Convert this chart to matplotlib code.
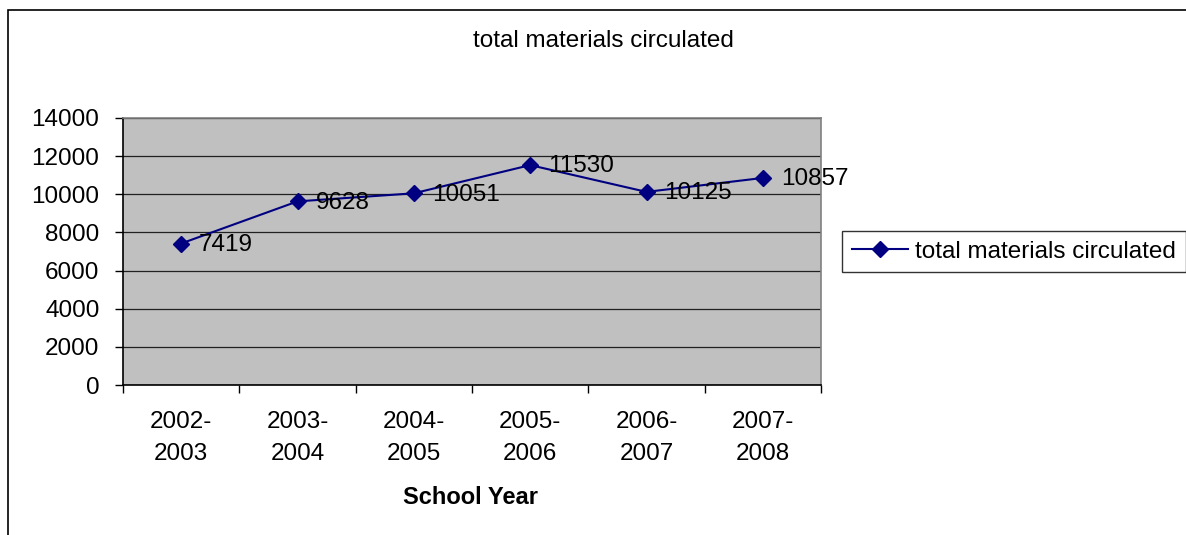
import matplotlib
matplotlib.use("Agg")
import matplotlib.pyplot as plt
from matplotlib import ticker
from matplotlib.patches import Rectangle

school_years = ["2002-\n2003", "2003-\n2004", "2004-\n2005", "2005-\n2006", "2006-\n2007", "2007-\n2008"]
circulated = [7419, 9628, 10051, 11530, 10125, 10857]
series_name = "total materials circulated"
y_ticks = [0, 2000, 4000, 6000, 8000, 10000, 12000, 14000]

plt.rcParams['font.family'] = ['Liberation Sans', 'DejaVu Sans']
FS = 17.5
W, H = 1186, 535

fig = plt.figure(figsize=(W / 100, H / 100), dpi=100)
ax = fig.add_axes([123 / W, 1 - 385 / H, (821 - 123) / W, (385 - 118) / H])
ax.set_facecolor("#c0c0c0")

x = list(range(len(school_years)))
ax.plot(x, circulated, color="#000080", lw=1.5, marker="D", markersize=8,
        label=series_name, zorder=3)
for xi, v in zip(x, circulated):
    ax.annotate(str(v), (xi, v), xytext=(13, -1), textcoords="offset points",
                ha="left", va="center", fontsize=FS, zorder=4)

ax.set_xlim(-0.5, len(school_years) - 0.5)
ax.set_ylim(0, 14000)
ax.set_yticks(y_ticks)
ax.yaxis.grid(True, color="#202020", lw=0.9)
ax.set_axisbelow(True)

ax.set_xticks(x)
ax.set_xticklabels(school_years, fontsize=FS, linespacing=1.55)
ax.xaxis.set_minor_locator(ticker.FixedLocator([i - 0.5 for i in range(len(school_years) + 1)]))
ax.tick_params(axis="x", which="major", length=0, pad=19)
ax.tick_params(axis="x", which="minor", length=6, width=1, direction="out")
ax.tick_params(axis="y", length=6, width=1, direction="out", pad=11, labelsize=FS)

for side in ("left", "bottom"):
    ax.spines[side].set_color("black")
    ax.spines[side].set_linewidth(1.2)
for side in ("top", "right"):
    ax.spines[side].set_color("#808080")
    ax.spines[side].set_linewidth(1.2)

fig.text(603 / W, 1 - 41 / H, series_name, ha="center", va="center", fontsize=FS)
fig.text(471 / W, 1 - 497 / H, "School Year", ha="center", va="center",
         fontsize=FS - 0.5, fontweight="bold")

leg = fig.legend(loc="upper left", bbox_to_anchor=(842 / W, 1 - 231 / H),
                 fontsize=FS, frameon=True, fancybox=False, edgecolor="black",
                 handlelength=2.3, handletextpad=0.3, borderpad=0.4,
                 borderaxespad=0)
leg.get_frame().set_linewidth(1)

# outer chart border
fig.patches.append(Rectangle((8 / W, -0.2), 1.2, 1.2 - 10 / H, transform=fig.transFigure,
                             fill=False, edgecolor="black", lw=1.2))

fig.savefig("out.png", dpi=100)
